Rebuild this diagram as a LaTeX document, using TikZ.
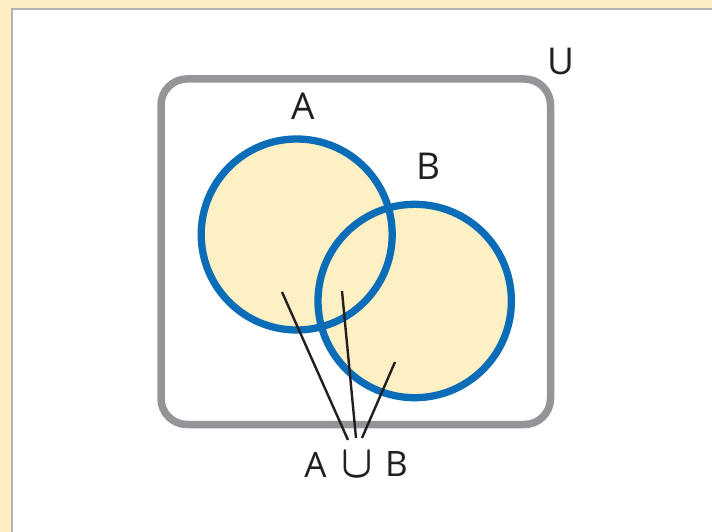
\documentclass[tikz,border=0pt]{standalone}
\usepackage{fontspec}
\setmainfont{Open Sans}
\definecolor{frameyellow}{HTML}{FDEEC4}
\definecolor{framegray}{HTML}{B3B3B3}
\definecolor{rectgray}{HTML}{939598}
\definecolor{circblue}{HTML}{0B6DB7}
\definecolor{circfill}{HTML}{FEF0C5}
\definecolor{ink}{HTML}{231F20}
\tikzset{
  biglabel/.style={inner sep=0pt, text=ink, font=\fontsize{37}{40}\selectfont},
  smalllabel/.style={inner sep=0pt, text=ink, font=\fontsize{35}{38}\selectfont},
  cuplabel/.style={inner sep=0pt, text=ink, font=\fontsize{10}{12}\selectfont},
  setcircle/.style={draw=circblue, line width=7.3pt},
  universe/.style={draw=rectgray, line width=7.5pt, rounded corners=26pt},
  conn/.style={draw=ink, line width=2.4pt}
}
\begin{document}
\begin{tikzpicture}[x=1pt,y=-1pt]
\useasboundingbox (0,0) rectangle (712,532);
% page frame
\fill[frameyellow] (0,0) rectangle (712,532);
\fill[white] (12,9) rectangle (712,532);
\draw[framegray, line width=2pt] (12,532) -- (12,9) -- (712,9);
% universe
\draw[universe] (161,79) rectangle (550.5,424.5);
% circles
\fill[circfill] (296.7,234.5) circle[radius=95.5pt];
\fill[circfill] (414.7,301) circle[radius=96.7pt];
\draw[setcircle] (296.7,234.5) circle[radius=95.5pt];
\draw[setcircle] (414.7,301) circle[radius=96.7pt];
% labels
\node[biglabel] (labA) at (303.5,106) {A};
\node[biglabel] (labB) at (428,166.5) {B};
\node[biglabel] (labU) at (561,61) {U};
\node[smalllabel] (ua) at (315.5,464.5) {A};
\node[cuplabel] (cup) at (357.5,465) {\scalebox{4.1}[4.6]{\boldmath$\cup$}};
\node[smalllabel] (ub) at (396.5,464.5) {B};
% connectors
\coordinate (s1) at (282,292);
\coordinate (s2) at (342,291);
\coordinate (s3) at (395,362);
\coordinate (e1) at (348,440);
\coordinate (e2) at (356,438);
\coordinate (e3) at (362,438);
\draw[conn] (s1) -- (e1);
\draw[conn] (s2) -- (e2);
\draw[conn] (s3) -- (e3);
\end{tikzpicture}
\end{document}
